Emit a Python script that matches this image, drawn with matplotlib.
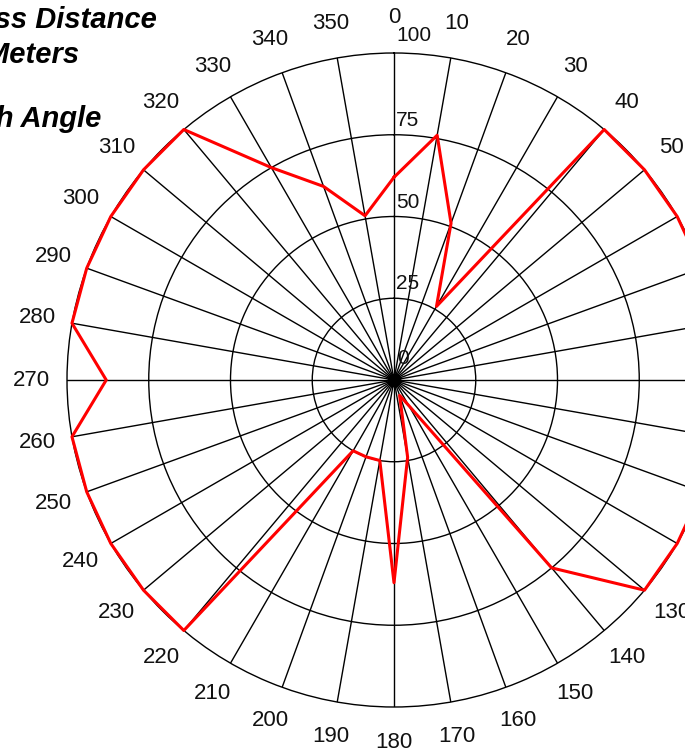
import numpy as np
import matplotlib
matplotlib.use('Agg')
import matplotlib.pyplot as plt

# Pass distance (m) for each approach angle (deg)
angles = [0, 10, 20, 30, 40, 50, 60, 70, 80, 90, 100, 110,
          120, 130, 140, 150, 160, 170, 180, 190, 200, 210, 220, 230,
          240, 250, 260, 270, 280, 290, 300, 310, 320, 330, 340, 350]
distances = [62, 76, 51, 26, 100, 100, 100, 100, 100, 100, 100, 100,
             100, 100, 75, 9, 5, 24, 62, 25, 25, 25, 100, 100,
             100, 100, 100, 88, 100, 100, 100, 100, 100, 75, 63, 51]
ring_values = [0, 25, 50, 75, 100]
title_lines = ['Pass Distance', 'in Meters', 'vs. Approach Angle']

plt.rcParams['font.family'] = ['Liberation Sans', 'DejaVu Sans']

fig = plt.figure(figsize=(6.85, 7.52), dpi=100)
W, H = 685, 752
cx, cy, R = 394, 380, 327
ax = fig.add_axes([(cx - R) / W, (H - cy - R) / H, 2 * R / W, 2 * R / H],
                  projection='polar')
ax.set_theta_zero_location('N')
ax.set_theta_direction(-1)
ax.set_ylim(0, 100)

# close the loop
th = np.deg2rad(angles + [angles[0]])
rr = distances + [distances[0]]
ax.plot(th, rr, color='#ff0000', lw=2.2, zorder=5, clip_on=False)

# grid
ax.set_thetagrids(angles, labels=[])
ax.set_rgrids([25, 50, 75], labels=[])
ax.grid(True, color='black', lw=1.0)
ax.spines['polar'].set_color('black')
ax.spines['polar'].set_linewidth(1.0)
ax.tick_params(length=0)

# dark hub where the spokes meet
ax.plot([0], [0], 'o', color='black', ms=9, zorder=4, clip_on=False)

# angle labels
for a in angles:
    ax.text(np.deg2rad(a), 110.8, str(a), ha='center', va='center',
            fontsize=16, color='#111111', clip_on=False)

# radial labels
for v in ring_values:
    off = (2, 8) if v == 100 else (2, 5)
    if v == 0:
        off = (3, 12)
    ax.annotate(str(v), xy=(0, v), xytext=off, textcoords='offset pixels',
                ha='left', va='bottom', fontsize=15, color='#111111',
                annotation_clip=False)

# title (cut off at left edge like the original)
rights = [157, 79, 101]
bases = [28, 63, 127]
for txt, xr, yb in zip(title_lines, rights, bases):
    fig.text(xr / W, 1 - yb / H, txt, ha='right', va='baseline',
             fontsize=21, fontweight='bold', fontstyle='italic')

fig.savefig('out.png', dpi=100)
